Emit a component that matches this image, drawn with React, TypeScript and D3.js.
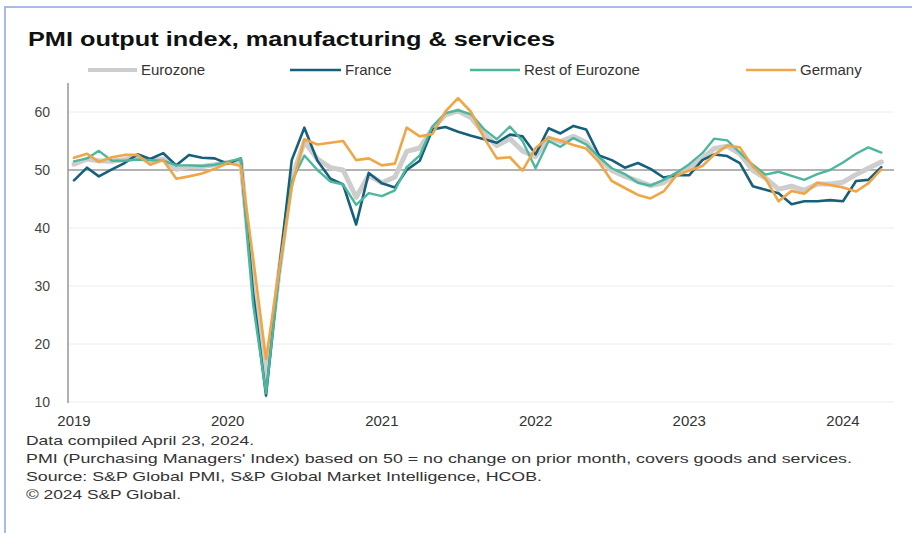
import React from "react";
import * as d3 from "d3";

const monthLabels: string[] = d3
  .timeMonth.range(new Date(2019, 0, 1), new Date(2024, 4, 1))
  .map((d) => d3.timeFormat("%Y-%m")(d));

const eurozone = [
  51.0, 51.9, 51.6, 51.5, 51.8, 52.2, 51.5, 51.9, 50.1, 50.6, 50.6, 50.9,
  51.3, 51.6, 29.7, 13.6, 31.9, 48.5, 54.9, 51.9, 50.4, 50.0, 45.3, 49.1,
  47.8, 48.8, 53.2, 53.8, 57.1, 59.5, 60.2, 59.0, 56.2, 54.2, 55.4, 53.3,
  52.3, 55.5, 54.9, 55.8, 54.8, 52.0, 49.9, 48.9, 48.1, 47.3, 47.8, 49.3,
  50.3, 52.0, 53.7, 54.1, 52.8, 49.9, 48.6, 46.7, 47.2, 46.5, 47.6, 47.6,
  47.9, 49.2, 50.3, 51.4,
];

const france = [
  48.2, 50.4, 48.9, 50.1, 51.2, 52.7, 51.9, 52.9, 50.8, 52.6, 52.1, 52.0,
  51.1, 52.0, 28.9, 11.1, 32.1, 51.7, 57.3, 51.6, 48.5, 47.5, 40.6, 49.5,
  47.7, 47.0, 50.0, 51.6, 57.0, 57.4, 56.6, 55.9, 55.3, 54.7, 56.1, 55.8,
  52.7, 57.2, 56.3, 57.6, 57.0, 52.5, 51.7, 50.4, 51.2, 50.2, 48.7, 49.1,
  49.1, 51.7, 52.7, 52.4, 51.2, 47.2, 46.6, 46.0, 44.1, 44.6, 44.6, 44.8,
  44.6, 48.1, 48.3, 50.5,
];

const restOfEurozone = [
  51.5, 52.0, 53.3, 51.6, 51.6, 51.8, 51.7, 51.6, 50.8, 50.8, 50.7, 50.9,
  51.4, 52.0, 27.0, 11.5, 31.5, 48.0, 52.5, 50.0, 48.0, 47.5, 44.0, 46.0,
  45.5, 46.5, 50.5, 52.5, 57.5, 59.8, 60.3, 59.6, 57.0, 55.3, 57.5, 55.0,
  50.3, 55.0, 54.0, 55.5, 54.4, 52.2, 50.3, 49.3, 47.8, 47.3, 48.3, 49.5,
  51.0, 52.9, 55.4, 55.1, 53.0, 50.9, 49.2, 49.7, 49.0, 48.3, 49.3, 50.0,
  51.3, 52.8, 53.9, 53.0,
];

const germany = [
  52.1, 52.8, 51.4, 52.2, 52.6, 52.6, 50.9, 51.7, 48.5, 48.9, 49.4, 50.2,
  51.2, 50.7, 35.0, 17.4, 32.3, 47.0, 55.3, 54.4, 54.7, 55.0, 51.7, 52.0,
  50.8, 51.1, 57.3, 55.8, 56.2, 60.1, 62.4, 60.0, 55.5, 52.0, 52.2, 49.9,
  53.8, 55.6, 55.1, 54.3, 53.7, 51.3, 48.1, 46.9, 45.7, 45.1, 46.3, 49.0,
  49.9, 50.7, 52.6, 54.2, 53.9, 50.6, 48.5, 44.6, 46.4, 45.9, 47.8, 47.4,
  47.0, 46.3, 47.7, 50.1,
];

const seriesNames = ["Eurozone", "France", "Rest of Eurozone", "Germany"];
const yTicks = [10, 20, 30, 40, 50, 60];
const xTickYears = ["2019", "2020", "2021", "2022", "2023", "2024"];
const footnotes = [
  "Data compiled April 23, 2024.",
  "PMI (Purchasing Managers' Index) based on 50 = no change on prior month, covers goods and services.",
  "Source: S&P Global PMI, S&P Global Market Intelligence, HCOB.",
  "© 2024 S&P Global.",
];
const titleText = "PMI output index, manufacturing & services";

const W = 912;
const H = 533;
const FONT = "'Liberation Sans', Arial, sans-serif";

const seriesStyle = [
  { color: "#cdcdcd", width: 5 },
  { color: "#17607c", width: 2.6 },
  { color: "#4cb79d", width: 2.4 },
  { color: "#f0a646", width: 2.6 },
];
const legendPos = [
  { x1: 88, x2: 137, tx: 141 },
  { x1: 290, x2: 341, tx: 345 },
  { x1: 470, x2: 520, tx: 524 },
  { x1: 746, x2: 796, tx: 800 },
];
const footWidths = [228, 826, 516, 155];

export default function App() {
  const parse = d3.timeParse("%Y-%m");
  const dates = monthLabels.map((m) => parse(m) as Date);
  const x = d3
    .scaleTime()
    .domain([new Date(2019, 0, 1), new Date(2024, 0, 1)])
    .range([74, 843]);
  const y = d3.scaleLinear().domain([10, 65]).range([402, 83]);

  const allSeries = [eurozone, france, restOfEurozone, germany];
  const line = d3
    .line<number>()
    .x((_, i) => x(dates[i]))
    .y((v) => y(v));

  const plotLeft = 68;
  const plotRight = 894;

  return (
    <svg
      width={W}
      height={H}
      style={{ position: "absolute", left: 0, top: 0, background: "#fff" }}
      fontFamily={FONT}
    >
      <rect x={0} y={0} width={W} height={H} fill="#fff" />
      <line x1={5} x2={W} y1={7} y2={7} stroke="#a9b9e8" strokeWidth={2} />
      <line x1={5} x2={5} y1={6} y2={H} stroke="#a9b9e8" strokeWidth={2} />

      <text
        x={28}
        y={46}
        fontSize={20}
        fontWeight="bold"
        fill="#111"
        textLength={527}
        lengthAdjust="spacingAndGlyphs"
      >
        {titleText}
      </text>

      {seriesNames.map((name, i) => (
        <g key={name}>
          <line
            x1={legendPos[i].x1}
            x2={legendPos[i].x2}
            y1={70}
            y2={70}
            stroke={seriesStyle[i].color}
            strokeWidth={i === 0 ? 4 : 2.6}
          />
          <text x={legendPos[i].tx} y={75} fontSize={15} fill="#333">
            {name}
          </text>
        </g>
      ))}

      {yTicks.map((t) => (
        <g key={t}>
          {t !== 50 && (
            <line
              x1={plotLeft}
              x2={plotRight}
              y1={y(t)}
              y2={y(t)}
              stroke="#ececec"
              strokeWidth={1}
            />
          )}
          <text
            x={50}
            y={y(t)}
            dy="0.35em"
            textAnchor="end"
            fontSize={14}
            fill="#444"
          >
            {t}
          </text>
        </g>
      ))}

      <line
        x1={plotLeft}
        x2={plotLeft}
        y1={83}
        y2={403}
        stroke="#b0b0b0"
        strokeWidth={2}
      />
      <line
        x1={plotLeft}
        x2={plotRight}
        y1={y(50)}
        y2={y(50)}
        stroke="#9a9a9a"
        strokeWidth={1.3}
      />

      {xTickYears.map((yr) => (
        <text
          key={yr}
          x={x(new Date(+yr, 0, 1))}
          y={426}
          textAnchor="middle"
          fontSize={15}
          fill="#333"
        >
          {yr}
        </text>
      ))}

      {allSeries.map((s, i) => (
        <path
          key={seriesNames[i]}
          d={line(s) || ""}
          fill="none"
          stroke={seriesStyle[i].color}
          strokeWidth={seriesStyle[i].width}
          strokeLinejoin="round"
          strokeLinecap="round"
        />
      ))}

      {footnotes.map((f, i) => (
        <text
          key={i}
          x={26}
          y={445 + i * 18}
          fontSize={13}
          fill="#333"
          textLength={footWidths[i]}
          lengthAdjust="spacingAndGlyphs"
        >
          {f}
        </text>
      ))}
    </svg>
  );
}
